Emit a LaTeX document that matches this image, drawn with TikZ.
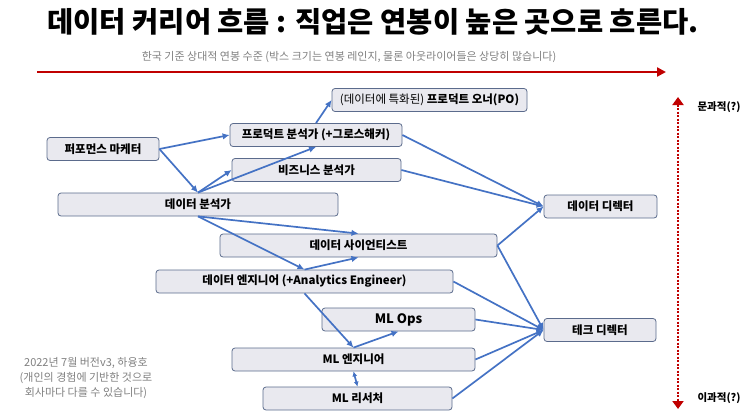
\documentclass[tikz,border=0pt]{standalone}
\usepackage{fontspec}
\setmainfont{Noto Sans CJK KR}
\newfontfamily\heavyfont{Noto Sans CJK KR Black}
\usetikzlibrary{arrows.meta}

\definecolor{flowblue}{HTML}{4472C4}
\definecolor{boxfill}{HTML}{E9E9EF}
\definecolor{boxline}{HTML}{5B6B8C}
\definecolor{axisred}{HTML}{C00000}
\definecolor{notegray}{HTML}{808080}

\tikzset{
  job/.style={draw=boxline, fill=boxfill, rounded corners=3pt, line width=0.8pt,
    minimum height=23pt, inner sep=0pt, font=\bfseries\fontsize{11.5}{13}\selectfont},
  flow/.style={draw=flowblue, line width=1.7pt, -{Latex[length=7pt,width=6.5pt]}},
  axis/.style={draw=axisred, line width=2.8pt},
}

\begin{document}
\begin{tikzpicture}[x=1pt, y=-1pt]
        \useasboundingbox (0,0) rectangle (744,420);

        % Titulo
        \node (title) at (373,22) {\heavyfont\fontsize{28.5}{30}\selectfont 데이터 커리어 흐름 : 직업은 연봉이 높은 곳으로 흐른다.};
        \node[text=notegray, font=\fontsize{11}{12}\selectfont] (sub) at (349,57)
            {한국 기준 상대적 연봉 수준 (박스 크기는 연봉 레인지, 물론 아웃라이어들은 상당히 많습니다)};

        % Eje de salario
        \coordinate (low) at (37,72);
        \coordinate (high) at (666,72);
        \draw[axis, -{Triangle[length=9pt,width=9pt]}] (low) -- (high);

        % Eje vertical
        \coordinate (up) at (678,97);
        \coordinate (dn) at (678,409);
        \draw[axis, dash pattern=on 2pt off 1.5pt,
            {Triangle[length=8pt,width=11pt]}-{Triangle[length=8pt,width=11pt]}] (up) -- (dn);
        \node[anchor=west, font=\bfseries\fontsize{10.5}{12}\selectfont] (munkwa) at (694,107) {문과적(?)};
        \node[anchor=west, font=\bfseries\fontsize{10.5}{12}\selectfont] (ikwa) at (694,398) {이과적(?)};

        % Cajas
        \node[job, minimum width=195pt] (po) at (429.5,100) {\mdseries (데이터에 특화된) \bfseries 프로덕트 오너(PO)};
        \node[job, minimum width=172pt] (pa) at (316,135) {프로덕트 분석가 (+그로스해커)};
        \node[job, minimum width=112pt] (pm) at (103,149) {퍼포먼스 마케터};
        \node[job, minimum width=169pt] (ba) at (316.5,170) {비즈니스 분석가};
        \node[job, minimum width=280pt] (da) at (198,204.5) {데이터 분석가};
        \node[job, minimum width=277pt] (ds) at (358.5,245.5) {데이터 사이언티스트};
        \node[job, minimum width=297pt] (de) at (304.5,281.5) {데이터 엔지니어 (+Analytics Engineer)};
        \node[job, minimum width=153pt, font=\bfseries\fontsize{13}{15}\selectfont] (mlops) at (398.5,319.5) {ML Ops};
        \node[job, minimum width=243pt] (mle) at (353.5,359.5) {ML 엔지니어};
        \node[job, minimum width=189pt] (mlr) at (357.5,398.5) {ML 리서처};
        \node[job, minimum width=113pt] (dd) at (600.5,206.5) {데이터 디렉터};
        \node[job, minimum width=112pt] (td) at (600,330) {테크 디렉터};

        % Flechas
        \draw[flow] (pm.east) -- (pa.west);
        \draw[flow] (pm.east) -- (da.north);
        \draw[flow] (da.north) -- (pa.south);
        \draw[flow] (da.north) -- (ba.west);
        \draw[flow] (pa.north) -- (po.west);
        \draw[flow] (pa.east) -- (dd.west);
        \draw[flow] (ba.east) -- (dd.west);
        \draw[flow] (ds.east) -- (dd.west);
        \draw[flow] (da.south) -- (ds.north);
        \draw[flow] (da.south) -- (de.north);
        \draw[flow] (de.north) -- (ds.south);
        \draw[flow] (de.south) -- (mle.north);
        \draw[flow] (mle.north) -- (mlops.south);
        \draw[flow, {Latex[length=5pt,width=5pt]}-{Latex[length=5pt,width=5pt]}] (mle.south) -- (mlr.north);
        \draw[flow] (ds.east) -- (td.west);
        \draw[flow] (de.east) -- (td.west);
        \draw[flow] (mlops.east) -- (td.west);
        \draw[flow] (mle.east) -- (td.west);
        \draw[flow] (mlr.east) -- (td.west);

        % Nota
        \node[align=center, text=notegray, font=\fontsize{11}{15}\selectfont] (note) at (86,378)
            {2022년 7월 버전v3, 하융호\\(개인의 경험에 기반한 것으로\\회사마다 다를 수 있습니다)};
    \end{tikzpicture}
\end{document}
